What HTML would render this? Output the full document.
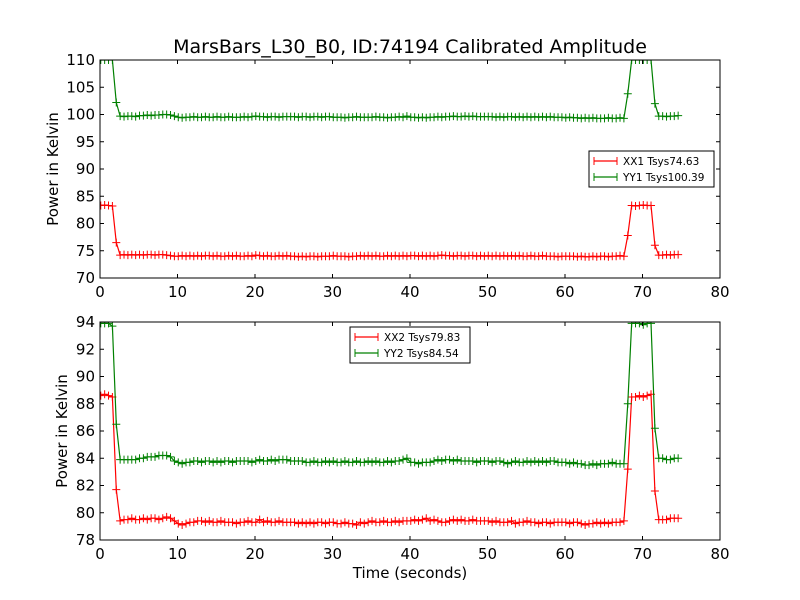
<!DOCTYPE html>
<html><head><meta charset="utf-8"><style>
body{margin:0;background:#fff;}
svg{display:block;font-family:"DejaVu Sans","Liberation Sans",sans-serif;}
</style></head><body>
<svg id="chart" width="800" height="600" viewBox="0 0 800 600">
<rect width="800" height="600" fill="#fff"/>
<text x="410" y="53" font-size="19" text-anchor="middle">MarsBars_L30_B0, ID:74194 Calibrated Amplitude</text>
<text x="410" y="578" font-size="15" text-anchor="middle">Time (seconds)</text>
</svg>
<script>
const T0 = 0.1, DT = 0.5;
const xx1 = [83.3,83.4,83.3,83.2,76.5,74.2,74.3,74.2,74.3,74.2,
74.3,74.2,74.3,74.3,74.2,74.3,74.3,74.2,74.1,74.0,
74.0,74.1,74.0,74.1,74.0,74.1,74.0,74.1,74.1,74.0,
74.1,74.0,74.0,74.1,74.0,74.1,74.0,74.0,74.1,74.0,
74.2,74.1,74.0,74.1,74.0,74.0,74.1,74.0,74.1,74.0,
74.0,73.9,74.0,73.9,74.0,74.0,73.9,74.0,74.0,74.0,
74.1,74.0,74.0,74.0,73.9,74.0,74.0,74.1,74.0,74.1,
74.0,74.1,74.0,74.0,74.1,74.0,74.1,74.0,74.1,74.0,
74.1,74.1,74.0,74.1,74.0,74.1,74.0,74.1,74.2,74.1,
74.1,74.0,74.1,74.1,74.0,74.1,74.1,74.0,74.1,74.0,
74.1,74.0,74.1,74.0,74.1,74.0,74.1,74.0,74.1,74.0,
74.0,74.1,74.0,74.0,74.1,74.0,74.0,74.0,73.9,74.0,
74.0,74.0,74.0,73.9,74.0,73.9,73.9,74.0,73.9,74.0,
74.0,73.9,74.0,74.0,74.1,74.0,77.8,83.3,83.2,83.3,
83.4,83.3,83.3,76.0,74.2,74.2,74.3,74.2,74.3,74.3];
const yy1 = [110,110,110,110,102.2,99.7,99.6,99.7,99.7,99.6,
99.8,99.8,99.9,99.8,99.9,99.9,100.0,100.0,99.9,99.7,
99.5,99.4,99.5,99.5,99.6,99.5,99.5,99.6,99.5,99.5,
99.6,99.5,99.5,99.6,99.5,99.5,99.5,99.6,99.5,99.6,
99.7,99.6,99.6,99.5,99.6,99.6,99.5,99.6,99.6,99.6,
99.6,99.5,99.6,99.6,99.5,99.6,99.6,99.5,99.6,99.6,
99.5,99.5,99.5,99.4,99.5,99.5,99.6,99.5,99.5,99.5,
99.5,99.6,99.5,99.5,99.4,99.5,99.5,99.6,99.5,99.7,
99.5,99.5,99.4,99.5,99.4,99.5,99.5,99.6,99.5,99.6,
99.6,99.7,99.6,99.6,99.7,99.6,99.7,99.6,99.6,99.6,
99.6,99.6,99.5,99.6,99.5,99.6,99.6,99.5,99.6,99.5,
99.6,99.5,99.6,99.5,99.6,99.5,99.6,99.5,99.5,99.5,
99.4,99.5,99.4,99.4,99.3,99.4,99.3,99.4,99.3,99.3,
99.3,99.4,99.3,99.3,99.4,99.3,103.8,110,110,110,
110,110,110,102.0,99.7,99.7,99.6,99.7,99.7,99.8];
const xx2 = [88.6,88.7,88.6,88.5,81.7,79.4,79.5,79.5,79.6,79.5,
79.5,79.6,79.5,79.6,79.6,79.5,79.6,79.7,79.6,79.4,
79.2,79.1,79.2,79.3,79.3,79.4,79.4,79.3,79.4,79.3,
79.3,79.4,79.3,79.3,79.3,79.2,79.3,79.3,79.4,79.3,
79.3,79.5,79.3,79.4,79.3,79.3,79.4,79.3,79.3,79.3,
79.3,79.2,79.3,79.2,79.3,79.2,79.3,79.3,79.2,79.3,
79.3,79.2,79.2,79.3,79.2,79.2,79.1,79.3,79.2,79.3,
79.4,79.3,79.3,79.4,79.3,79.3,79.4,79.3,79.4,79.4,
79.4,79.5,79.4,79.5,79.6,79.4,79.5,79.4,79.3,79.3,
79.4,79.5,79.4,79.5,79.4,79.4,79.5,79.4,79.4,79.4,
79.4,79.3,79.4,79.3,79.3,79.3,79.4,79.2,79.3,79.3,
79.4,79.3,79.3,79.2,79.3,79.3,79.2,79.3,79.3,79.3,
79.3,79.2,79.3,79.3,79.2,79.1,79.2,79.2,79.3,79.2,
79.3,79.2,79.3,79.3,79.3,79.4,83.2,88.5,88.5,88.6,
88.5,88.6,88.7,81.6,79.5,79.5,79.5,79.6,79.6,79.6];
const yy2 = [93.9,93.9,93.9,93.7,86.5,83.9,83.9,83.9,83.9,83.9,
84.0,84.0,84.1,84.1,84.1,84.2,84.2,84.2,84.1,83.8,
83.7,83.6,83.7,83.7,83.8,83.8,83.7,83.8,83.8,83.7,
83.8,83.7,83.8,83.8,83.7,83.8,83.8,83.8,83.8,83.7,
83.8,83.9,83.8,83.8,83.9,83.8,83.9,83.9,83.9,83.8,
83.8,83.8,83.8,83.7,83.7,83.8,83.7,83.7,83.8,83.7,
83.8,83.7,83.7,83.8,83.7,83.7,83.8,83.7,83.7,83.8,
83.7,83.8,83.7,83.7,83.8,83.7,83.8,83.8,83.9,84.0,
83.7,83.7,83.6,83.7,83.7,83.7,83.8,83.9,83.8,83.9,
83.9,83.8,83.9,83.8,83.8,83.8,83.8,83.7,83.8,83.8,
83.8,83.7,83.8,83.8,83.7,83.6,83.7,83.8,83.7,83.7,
83.8,83.7,83.8,83.7,83.8,83.7,83.8,83.8,83.7,83.7,
83.7,83.6,83.7,83.6,83.6,83.5,83.5,83.6,83.5,83.6,
83.6,83.6,83.7,83.6,83.6,83.6,88.0,93.9,93.9,93.9,
93.8,93.9,93.9,86.2,84.0,84.0,83.9,83.9,84.0,84.0];
const xTicks = [0,10,20,30,40,50,60,70,80];
const yTicksTop = [70,75,80,85,90,95,100,105,110];
const yTicksBot = [78,80,82,84,86,88,90,92,94];
const legendTop = ["XX1 Tsys74.63","YY1 Tsys100.39"];
const legendBot = ["XX2 Tsys79.83","YY2 Tsys84.54"];

const NS = "http://www.w3.org/2000/svg";
const svg = document.getElementById("chart");
function mk(tag, attrs, parent){const e=document.createElementNS(NS,tag);for(const k in attrs)e.setAttribute(k,attrs[k]);(parent||svg).appendChild(e);return e;}

function panel(name, top, bottom, ymin, ymax, yTicks, s1, s2, legend, lg, ylabelX){
  const L=100,R=720;
  const g=mk("g",{});
  
  
  const X=v=>L+(v-0)/(80-0)*(R-L);
  const Y=v=>bottom-(v-ymin)/(ymax-ymin)*(bottom-top);
  const cid=name+"-clip";
  const cp=mk("clipPath",{id:cid},g);mk("rect",{x:L,y:top,width:R-L,height:bottom-top},cp);
  const dg=mk("g",{"clip-path":"url(#"+cid+")"},g);
  [[s1,"#ff0000","xx"],[s2,"#008000","yy"]].forEach(([s,c,nm])=>{
    let d="";
    s.forEach((v,i)=>{const t=T0+i*DT;d+=(i?"L":"M")+X(t).toFixed(2)+","+Y(v).toFixed(2);});
    const p=mk("path",{d:d,fill:"none",stroke:c,"stroke-width":1.2},dg);
    
    
    let m="";
    s.forEach((v,i)=>{const x=X(T0+i*DT),y=Y(v);m+=`M${x-4},${y}h8M${x},${y-4}v8`;});
    const mp=mk("path",{d:m,stroke:c,"stroke-width":1,fill:"none"},dg);
    
    
  });
  const fr=mk("rect",{x:L,y:top,width:R-L,height:bottom-top,fill:"none",stroke:"#000","stroke-width":1},g);
  
  
  xTicks.forEach(v=>{
    const x=X(v);
    mk("line",{x1:x,x2:x,y1:bottom,y2:bottom-4,stroke:"#000"},g);
    mk("line",{x1:x,x2:x,y1:top,y2:top+4,stroke:"#000"},g);
    const t=mk("text",{x:x,y:bottom+19,"font-size":15,"text-anchor":"middle"},g);
    t.textContent=v;
    
    
  });
  yTicks.forEach(v=>{
    const y=Y(v);
    mk("line",{x1:L,x2:L+4,y1:y,y2:y,stroke:"#000"},g);
    mk("line",{x1:R,x2:R-4,y1:y,y2:y,stroke:"#000"},g);
    const t=mk("text",{x:L-5,y:y+5,"font-size":15,"text-anchor":"end"},g);
    t.textContent=v;
    
    
  });
  const yl=mk("text",{x:ylabelX,y:(top+bottom)/2,"font-size":15,"text-anchor":"middle",transform:`rotate(-90 ${ylabelX} ${(top+bottom)/2})`},g);
  yl.textContent="Power in Kelvin";
  
  
  const lgG=mk("g",{},g);
  
  
  mk("rect",{x:lg.x,y:lg.y,width:lg.w,height:36,fill:"#fff",stroke:"#000","stroke-width":1},lgG);
  ["#ff0000","#008000"].forEach((c,i)=>{
    const y=lg.y+10+i*16;
    mk("line",{x1:lg.x+5,x2:lg.x+28,y1:y,y2:y,stroke:c,"stroke-width":1.2},lgG);
    mk("path",{d:`M${lg.x+5},${y-4}v8M${lg.x+28},${y-4}v8`,stroke:c},lgG);
    const t=mk("text",{x:lg.x+34,y:y+4,"font-size":10.5},lgG);
    t.textContent=legend[i];
    
    
  });
}
panel("top-panel",60,278,70,110,yTicksTop,xx1,yy1,legendTop,{x:589,y:151,w:125},58);
panel("bottom-panel",322,540,78,94,yTicksBot,xx2,yy2,legendBot,{x:350,y:327,w:120},67);
</script>
</body></html>
